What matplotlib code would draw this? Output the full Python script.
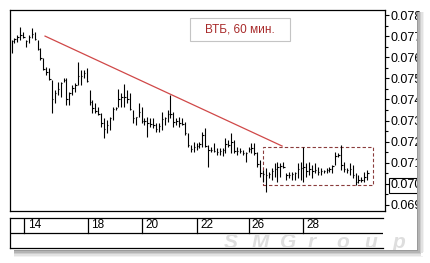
import numpy as np
import matplotlib
matplotlib.use('Agg')
import matplotlib.pyplot as plt
from matplotlib.patches import Rectangle
from matplotlib.ticker import MultipleLocator, FormatStrFormatter

plt.rcParams['font.family'] = ['Liberation Sans', 'DejaVu Sans']

# hourly bars, VTB
highs = [0.07682, 0.07691, 0.07705, 0.07743, 0.07719, 0.07682, 0.07705, 0.07738, 0.07719, 0.07682,
         0.07644, 0.07596, 0.07554, 0.07549, 0.07492, 0.07445, 0.07482, 0.07482, 0.07501, 0.07501,
         0.07435, 0.07468, 0.07478, 0.07577, 0.07539, 0.07539, 0.07549, 0.07445, 0.07397, 0.07383,
         0.07364, 0.07336, 0.07312, 0.07302, 0.07317, 0.07364, 0.07364, 0.07449, 0.07430, 0.07473,
         0.07445, 0.07430, 0.07350, 0.07317, 0.07383, 0.07364, 0.07312, 0.07317, 0.07312, 0.07312,
         0.07288, 0.07288, 0.07340, 0.07317, 0.07350, 0.07421, 0.07340, 0.07312, 0.07317, 0.07312,
         0.07293, 0.07241, 0.07184, 0.07198, 0.07193, 0.07198, 0.07245, 0.07264, 0.07184, 0.07174,
         0.07193, 0.07170, 0.07170, 0.07170, 0.07217, 0.07208, 0.07241, 0.07208, 0.07174, 0.07170,
         0.07160, 0.07151, 0.07174, 0.07193, 0.07193, 0.07151, 0.07113, 0.07065, 0.07075, 0.07056,
         0.07075, 0.07099, 0.07103, 0.07099, 0.07103, 0.07051, 0.07056, 0.07056, 0.07056, 0.07099,
         0.07103, 0.07174, 0.07099, 0.07103, 0.07089, 0.07099, 0.07080, 0.07075, 0.07065, 0.07075,
         0.07080, 0.07089, 0.07151, 0.07146, 0.07184, 0.07103, 0.07075, 0.07099, 0.07089, 0.07051,
         0.07042, 0.07032, 0.07056, 0.07065]
lows = [0.07620, 0.07667, 0.07672, 0.07682, 0.07691, 0.07648, 0.07667, 0.07691, 0.07682, 0.07634,
        0.07587, 0.07539, 0.07516, 0.07492, 0.07336, 0.07383, 0.07421, 0.07411, 0.07482, 0.07373,
        0.07373, 0.07421, 0.07435, 0.07468, 0.07468, 0.07501, 0.07482, 0.07373, 0.07336, 0.07336,
        0.07326, 0.07269, 0.07217, 0.07241, 0.07255, 0.07302, 0.07350, 0.07364, 0.07364, 0.07364,
        0.07383, 0.07350, 0.07288, 0.07279, 0.07317, 0.07288, 0.07279, 0.07222, 0.07269, 0.07264,
        0.07245, 0.07245, 0.07255, 0.07279, 0.07293, 0.07312, 0.07269, 0.07279, 0.07269, 0.07279,
        0.07231, 0.07174, 0.07151, 0.07151, 0.07160, 0.07170, 0.07174, 0.07174, 0.07080, 0.07151,
        0.07151, 0.07137, 0.07137, 0.07132, 0.07146, 0.07174, 0.07146, 0.07146, 0.07137, 0.07146,
        0.07137, 0.07103, 0.07151, 0.07146, 0.07137, 0.07080, 0.07032, 0.07009, 0.06961, 0.07027,
        0.07018, 0.07032, 0.07009, 0.07032, 0.07075, 0.07018, 0.07027, 0.07018, 0.07018, 0.07027,
        0.07018, 0.07009, 0.07032, 0.07042, 0.07027, 0.07051, 0.07042, 0.07042, 0.07051, 0.07051,
        0.07056, 0.07051, 0.07089, 0.07127, 0.07065, 0.07056, 0.07051, 0.07042, 0.07027, 0.06994,
        0.07004, 0.07009, 0.07009, 0.07018]
closes = [0.07675, 0.07685, 0.07695, 0.07705, 0.07695, 0.07675, 0.07695, 0.07710, 0.07685, 0.07640,
          0.07595, 0.07545, 0.07530, 0.07495, 0.07400, 0.07430, 0.07450, 0.07480, 0.07490, 0.07400,
          0.07430, 0.07455, 0.07470, 0.07510, 0.07510, 0.07525, 0.07485, 0.07390, 0.07360, 0.07345,
          0.07330, 0.07290, 0.07260, 0.07280, 0.07310, 0.07355, 0.07360, 0.07400, 0.07410, 0.07410,
          0.07400, 0.07355, 0.07310, 0.07315, 0.07340, 0.07300, 0.07300, 0.07290, 0.07285, 0.07280,
          0.07260, 0.07275, 0.07305, 0.07310, 0.07330, 0.07330, 0.07295, 0.07300, 0.07290, 0.07285,
          0.07240, 0.07185, 0.07165, 0.07175, 0.07180, 0.07190, 0.07230, 0.07180, 0.07160, 0.07160,
          0.07155, 0.07150, 0.07155, 0.07160, 0.07190, 0.07185, 0.07200, 0.07155, 0.07155, 0.07155,
          0.07145, 0.07145, 0.07165, 0.07170, 0.07145, 0.07095, 0.07050, 0.07045, 0.07040, 0.07045,
          0.07060, 0.07070, 0.07080, 0.07085, 0.07080, 0.07040, 0.07040, 0.07045, 0.07050, 0.07070,
          0.07075, 0.07080, 0.07060, 0.07070, 0.07060, 0.07065, 0.07055, 0.07060, 0.07060, 0.07065,
          0.07070, 0.07085, 0.07130, 0.07135, 0.07090, 0.07070, 0.07065, 0.07070, 0.07040, 0.07010,
          0.07020, 0.07020, 0.07030, 0.07050]

# first bar of each trading day shown in the date strip
day_labels = ['14', '18', '20', '22', '26', '28']
day_first_bar = [5, 27, 46, 65, 83, 102]

# drawn annotations: falling trend line and the sideways range box
trend_start = (11.6, 0.07700)
trend_end = (93.6, 0.07179)
range_bars = (87.0, 125.1)
range_prices = (0.06994, 0.07174)

title = 'ВТБ, 60 мин.'
watermark = 'SMGroup'

W, H = 431, 263
fig = plt.figure(figsize=(W / 100, H / 100), dpi=100)
fig.patch.set_facecolor('white')

x = np.arange(len(highs))
xlim = (-0.52, 129.2)

# main price panel
ax = fig.add_axes([10 / W, 1 - 211 / H, 375 / W, 201 / H])
ax.vlines(x, lows, highs, color='black', lw=0.8)
ax.hlines(closes, x, x + 0.5, color='black', lw=0.8)

ax.plot([trend_start[0], trend_end[0]], [trend_start[1], trend_end[1]],
        color='#d04848', lw=0.9)
ax.add_patch(Rectangle((range_bars[0], range_prices[0]),
                       range_bars[1] - range_bars[0], range_prices[1] - range_prices[0],
                       fill=False, edgecolor='#8a3c3c', lw=0.8, ls=(0, (3, 2))))

ax.set_xlim(*xlim)
ax.set_ylim(0.068711, 0.078237)
ax.set_xticks([])
ax.yaxis.tick_right()
ax.yaxis.set_major_locator(MultipleLocator(0.001))
ax.yaxis.set_minor_locator(MultipleLocator(0.0005))
ax.yaxis.set_major_formatter(FormatStrFormatter('%.3f'))
ax.tick_params(axis='y', which='major', length=3.2, width=0.8, labelsize=9, pad=0.6, direction='out')
ax.tick_params(axis='y', which='minor', length=1.8, width=0.8, direction='out')
for s in ax.spines.values():
    s.set_linewidth(0.9)

# title box
bx0, bx1 = (190 - 10) / 375, (290 - 10) / 375
by0, by1 = 1 - (41 - 10) / 201, 1 - (18 - 10) / 201
ax.add_patch(Rectangle((bx0, by0), bx1 - bx0, by1 - by0, transform=ax.transAxes,
                       facecolor='white', edgecolor='#c4c4c4', lw=0.8, zorder=5))
ax.text((bx0 + bx1) / 2, (by0 + by1) / 2, title, transform=ax.transAxes,
        ha='center', va='center', color='#a82a2a', fontsize=8.5, zorder=6)

fig.canvas.draw()
for lab in ax.get_yticklabels():
    if lab.get_text() == '0.070':
        lab.set_bbox(dict(facecolor='white', edgecolor='black', lw=0.8, pad=1.0))

# date strip
dx = fig.add_axes([10 / W, 1 - 248 / H, 373 / W, 30 / H])
dx.set_xlim(*xlim)
dx.set_ylim(0, 1)
dx.set_xticks([])
dx.set_yticks([])
dx.spines['right'].set_visible(False)
for s in dx.spines.values():
    s.set_linewidth(0.9)
dx.axhline(0.5, color='black', lw=0.9)
for lab, b in zip(day_labels, day_first_bar):
    dx.plot([b - 0.5, b - 0.5], [0.5, 1], color='black', lw=0.9)
    dx.text(b + 0.6, 0.76, lab, ha='left', va='center', fontsize=8.5)

# faint watermark in the lower row, letters spread wide
for i, ch in enumerate(watermark):
    fig.text((224 + i * 28) / W, 1 - 248 / H, ch, fontsize=15, fontweight='bold',
             fontstyle='italic', color='#dedede', ha='left', va='baseline', zorder=1)

# drop shadow along right and bottom edges of the panel
greys = ['#9a9a9a', '#b4b4b4', '#cccccc', '#e2e2e2', '#f2f2f2']
for i, g in enumerate(greys):
    fig.add_artist(Rectangle(((417 + i * 1.4) / W, 1 - (256 - i) / H), 1.4 / W, (244 - i) / H,
                             transform=fig.transFigure, facecolor=g, edgecolor='none', zorder=20))
    fig.add_artist(Rectangle((14 / W, 1 - (250 + (i + 1) * 1.4) / H), (403 + i * 1.4) / W, 1.4 / H,
                             transform=fig.transFigure, facecolor=g, edgecolor='none', zorder=20))
fig.add_artist(Rectangle((424 / W, 0), 7 / W, 1, transform=fig.transFigure,
                         facecolor='white', edgecolor='none', zorder=21))

fig.savefig('out.png', dpi=100)
